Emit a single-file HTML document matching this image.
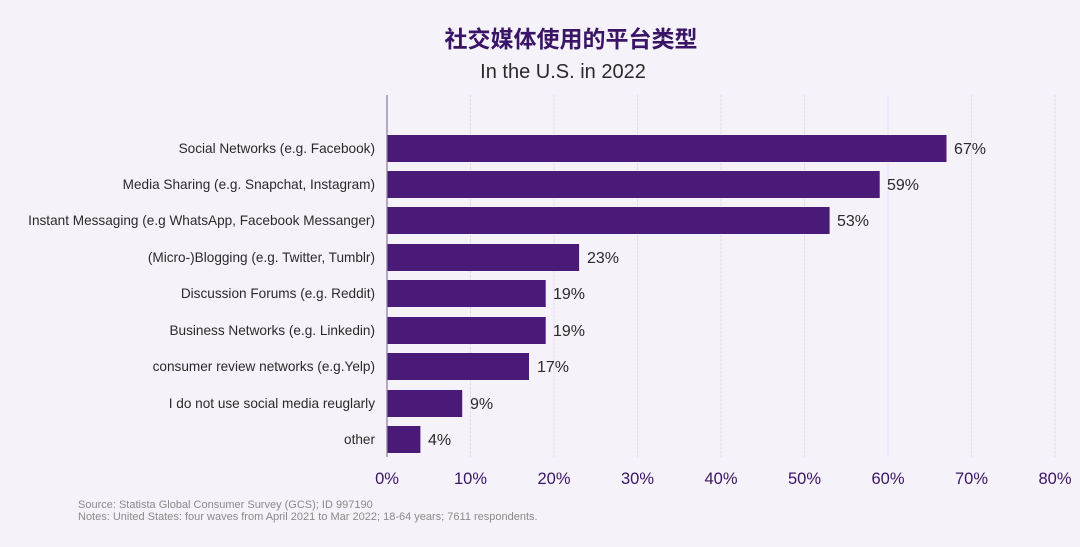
<!DOCTYPE html>
<html><head><meta charset="utf-8"><style>
html,body{margin:0;padding:0;background:#f5f2f9;}
svg{display:block;font-family:"Liberation Sans","Noto Sans CJK SC",sans-serif;}
</style></head><body>
<svg width="1080" height="547" viewBox="0 0 1080 547" xmlns="http://www.w3.org/2000/svg">
<rect width="1080" height="547" fill="#f5f2f9"/>
<text x="571" y="47" text-anchor="middle" font-size="23" font-weight="bold" fill="#3a1466" font-family="'Noto Sans CJK SC',sans-serif">社交媒体使用的平台类型</text>
<text x="563" y="78" text-anchor="middle" font-size="20" fill="#2a2a2a">In the U.S. in 2022</text>
<g stroke="#e6d8f5" stroke-width="1" stroke-dasharray="3,1">
<line x1="470.5" y1="95" x2="470.5" y2="457"/><line x1="554" y1="95" x2="554" y2="457"/>
<line x1="637.5" y1="95" x2="637.5" y2="457"/><line x1="721" y1="95" x2="721" y2="457"/>
<line x1="804.5" y1="95" x2="804.5" y2="457"/><line x1="888" y1="95" x2="888" y2="457"/>
<line x1="971.5" y1="95" x2="971.5" y2="457"/><line x1="1055" y1="95" x2="1055" y2="457"/>
</g>
<g fill="#4a1a78">
<rect x="387" y="135" width="559.5" height="27"/>
<rect x="387" y="171" width="492.7" height="27"/>
<rect x="387" y="207" width="442.6" height="27"/>
<rect x="387" y="244" width="192.1" height="27"/>
<rect x="387" y="280" width="158.7" height="27"/>
<rect x="387" y="317" width="158.7" height="27"/>
<rect x="387" y="353" width="142" height="27"/>
<rect x="387" y="390" width="75.2" height="27"/>
<rect x="387" y="426" width="33.4" height="27"/>
</g>
<line x1="387" y1="95" x2="387" y2="457" stroke="#8a7a9a" stroke-width="1.2"/>
<g font-size="13.6" fill="#2a2a2a" text-anchor="end">
<text x="375" y="153">Social Networks (e.g. Facebook)</text>
<text x="375" y="189">Media Sharing (e.g. Snapchat, Instagram)</text>
<text x="375" y="225">Instant Messaging (e.g WhatsApp, Facebook Messanger)</text>
<text x="375" y="262">(Micro-)Blogging (e.g. Twitter, Tumblr)</text>
<text x="375" y="298">Discussion Forums (e.g.  Reddit)</text>
<text x="375" y="335">Business Networks (e.g. Linkedin)</text>
<text x="375" y="371">consumer review networks (e.g.Yelp)</text>
<text x="375" y="408">I do not use social media reuglarly</text>
<text x="375" y="444">other</text>
</g>
<g font-size="16" fill="#2a2a2a">
<text x="954" y="154">67%</text><text x="887" y="190">59%</text><text x="837" y="226">53%</text>
<text x="587" y="263">23%</text><text x="553" y="299">19%</text><text x="553" y="336">19%</text>
<text x="537" y="372">17%</text><text x="470" y="409">9%</text><text x="428" y="445">4%</text>
</g>
<g font-size="16.5" fill="#3a1466" text-anchor="middle">
<text x="387" y="484">0%</text><text x="470.5" y="484">10%</text><text x="554" y="484">20%</text>
<text x="637.5" y="484">30%</text><text x="721" y="484">40%</text><text x="804.5" y="484">50%</text>
<text x="888" y="484">60%</text><text x="971.5" y="484">70%</text><text x="1055" y="484">80%</text>
</g>
<g font-size="11" fill="#8a8a8a">
<text x="78" y="508">Source: Statista Global Consumer Survey (GCS); ID 997190</text>
<text x="78" y="520">Notes: United States: four waves from April 2021 to Mar 2022; 18-64 years; 7611 respondents.</text>
</g>
</svg>
</body></html>
